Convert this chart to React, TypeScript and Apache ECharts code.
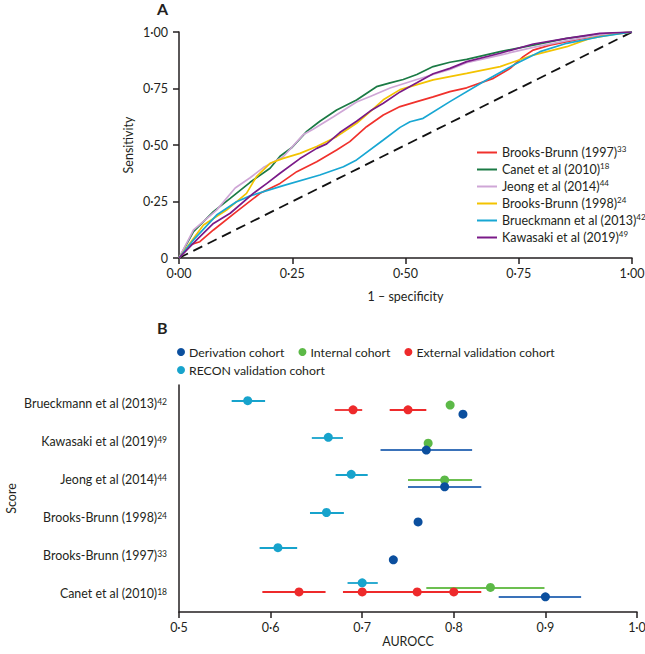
import React, { useEffect, useRef } from 'react';
import * as echarts from 'echarts';

const FONT = 'Lato, "Liberation Sans", sans-serif';
const TXT = '#231f20';

// ---------- Panel A: ROC curves ----------
const rocNames = [
  'Brooks-Brunn (1997)',
  'Canet et al (2010)',
  'Jeong et al (2014)',
  'Brooks-Brunn (1998)',
  'Brueckmann et al (2013)',
  'Kawasaki et al (2019)',
];
const rocRefs = ['33', '18', '44', '24', '42', '49'];
const rocColors = ['#f0312c', '#1b7a45', '#cfa6d6', '#f3c300', '#18a7d3', '#7a1a88'];

const rocBB1997 = [
  [0, 0], [0.024, 0.058], [0.046, 0.072], [0.076, 0.124], [0.127, 0.205], [0.179, 0.286],
  [0.223, 0.33], [0.26, 0.382], [0.304, 0.426], [0.348, 0.478], [0.377, 0.515], [0.414, 0.581],
  [0.451, 0.633], [0.488, 0.67], [0.525, 0.692], [0.561, 0.713], [0.598, 0.736], [0.635, 0.753],
  [0.694, 0.795], [0.731, 0.839], [0.76, 0.891], [0.782, 0.92], [0.819, 0.942], [0.892, 0.972],
  [0.966, 0.994], [1, 1],
];
const rocCanet = [
  [0, 0], [0.032, 0.117], [0.076, 0.205], [0.113, 0.264], [0.157, 0.335], [0.201, 0.397],
  [0.223, 0.45], [0.25, 0.49], [0.282, 0.56], [0.311, 0.605], [0.348, 0.655], [0.392, 0.699],
  [0.436, 0.758], [0.466, 0.775], [0.495, 0.79], [0.525, 0.812], [0.561, 0.847], [0.598, 0.866],
  [0.635, 0.879], [0.709, 0.913], [0.782, 0.942], [0.856, 0.972], [0.929, 0.991], [1, 1],
];
const rocJeong = [
  [0, 0], [0.032, 0.124], [0.083, 0.212], [0.124, 0.31], [0.157, 0.355], [0.186, 0.4],
  [0.23, 0.448], [0.274, 0.545], [0.296, 0.57], [0.341, 0.625], [0.392, 0.69], [0.422, 0.715],
  [0.466, 0.752], [0.525, 0.79], [0.561, 0.812], [0.598, 0.834], [0.635, 0.864], [0.709, 0.898],
  [0.782, 0.932], [0.856, 0.962], [0.929, 0.987], [1, 1],
];
const rocBB1998 = [
  [0, 0], [0.054, 0.146], [0.105, 0.212], [0.149, 0.286], [0.171, 0.36], [0.201, 0.419],
  [0.23, 0.441], [0.267, 0.463], [0.304, 0.493], [0.348, 0.537], [0.392, 0.596], [0.422, 0.648],
  [0.451, 0.7], [0.488, 0.745], [0.561, 0.788], [0.635, 0.817], [0.709, 0.847], [0.782, 0.898],
  [0.856, 0.935], [0.907, 0.972], [0.966, 0.991], [1, 1],
];
const rocBrueckmann = [
  [0, 0], [0.032, 0.08], [0.083, 0.19], [0.127, 0.249], [0.157, 0.275], [0.23, 0.32],
  [0.311, 0.367], [0.363, 0.404], [0.392, 0.434], [0.451, 0.522], [0.488, 0.578], [0.51, 0.603],
  [0.539, 0.618], [0.598, 0.692], [0.672, 0.78], [0.745, 0.861], [0.797, 0.913], [0.856, 0.95],
  [0.929, 0.979], [1, 1],
];
const rocKawasaki = [
  [0, 0], [0.039, 0.08], [0.076, 0.153], [0.113, 0.198], [0.164, 0.286], [0.194, 0.33],
  [0.223, 0.375], [0.267, 0.44], [0.304, 0.485], [0.326, 0.505], [0.355, 0.555], [0.392, 0.605],
  [0.422, 0.65], [0.451, 0.685], [0.488, 0.735], [0.525, 0.775], [0.561, 0.815], [0.598, 0.839],
  [0.635, 0.869], [0.709, 0.906], [0.782, 0.947], [0.856, 0.972], [0.929, 0.994], [1, 1],
];
const rocCurves = [rocBB1997, rocCanet, rocJeong, rocBB1998, rocBrueckmann, rocKawasaki];
const chanceLine = [[0, 0], [1, 1]];

// ---------- Panel B: AUROCC forest ----------
// bottom -> top
const scoreNames = [
  'Canet et al (2010)',
  'Brooks-Brunn (1997)',
  'Brooks-Brunn (1998)',
  'Jeong et al (2014)',
  'Kawasaki et al (2019)',
  'Brueckmann et al (2013)',
];
const scoreRefs = ['18', '33', '24', '44', '49', '42'];

const cohortNames = [
  'Derivation cohort',
  'Internal cohort',
  'External validation cohort',
  'RECON validation cohort',
];
const cohortColors = ['#0b4f9e', '#5cb947', '#ee2a2b', '#17a3cc'];
const cohortCIColors = ['#3a72b9', '#6cbf50', '#ee2a2b', '#17a3cc'];

// [rowIndex, auroc, ciLow, ciHigh, offset within row]
const derivation = [
  [5, 0.81, null, null, -0.27],
  [4, 0.77, 0.72, 0.82, -0.22],
  [3, 0.79, 0.75, 0.83, -0.19],
  [2, 0.761, null, null, -0.12],
  [1, 0.734, null, null, -0.12],
  [0, 0.9, 0.849, 0.939, -0.1],
];
const internal = [
  [5, 0.796, null, null, -0.03],
  [4, 0.772, null, null, -0.04],
  [3, 0.79, 0.75, 0.82, -0.01],
  [0, 0.84, 0.77, 0.899, 0.15],
];
const external = [
  [5, 0.69, 0.67, 0.7, -0.155],
  [5, 0.75, 0.73, 0.77, -0.155],
  [0, 0.631, 0.591, 0.66, 0.03],
  [0, 0.7, 0.679, 0.76, 0.03],
  [0, 0.76, 0.7, 0.8, 0.03],
  [0, 0.8, 0.76, 0.83, 0.03],
];
const recon = [
  [5, 0.575, 0.5575, 0.594, 0.085],
  [4, 0.663, 0.645, 0.679, 0.116],
  [3, 0.688, 0.671, 0.706, 0.14],
  [2, 0.661, 0.643, 0.68, 0.13],
  [1, 0.608, 0.588, 0.629, 0.2],
  [0, 0.7, 0.684, 0.717, 0.27],
];
const cohorts = [derivation, internal, external, recon];

const fmt = (v: number, d: number) => v.toFixed(d).replace('.', '·');

const supRich = (size: number) => ({
  sup: { fontSize: size, fontFamily: FONT, color: TXT, verticalAlign: 'top', lineHeight: 10 },
});

export default function App() {
  const ref = useRef<HTMLDivElement>(null);

  useEffect(() => {
    if (!ref.current) return;
    const chart = echarts.init(ref.current, undefined, { renderer: 'svg' });

    const axisCommon = {
      axisLine: { lineStyle: { color: TXT, width: 1.5 } },
      axisTick: { length: 6, lineStyle: { color: TXT, width: 1.5 } },
      splitLine: { show: false },
      nameLocation: 'middle',
      nameMoveOverlap: false,
      nameTextStyle: { fontSize: 12.5, color: TXT, fontFamily: FONT },
    };
    const labelCommon = { fontSize: 12.5, color: TXT, fontFamily: FONT };

    const rocSeries = rocCurves.map((d, i) => ({
      name: rocNames[i],
      type: 'line',
      xAxisIndex: 0,
      yAxisIndex: 0,
      data: d,
      showSymbol: false,
      symbol: 'none',
      lineStyle: { color: rocColors[i], width: 1.7 },
      itemStyle: { color: rocColors[i] },
      z: 3,
    }));

    const ciSeries = cohorts.map((rows, ci) => ({
      name: cohortNames[ci] + ' CI',
      type: 'lines',
      coordinateSystem: 'cartesian2d',
      xAxisIndex: 1,
      yAxisIndex: 2,
      polyline: false,
      data: rows
        .filter((r) => r[2] != null)
        .map((r) => ({
          coords: [
            [r[2], (r[0] as number) + 0.5 + (r[4] as number)],
            [r[3], (r[0] as number) + 0.5 + (r[4] as number)],
          ],
        })),
      lineStyle: { color: cohortCIColors[ci], width: 1.8, opacity: 1 },
      z: 2,
    }));

    const drawOrder = [3, 2, 1, 0];
    const pointSeries = drawOrder.map((ci) => ({
      name: cohortNames[ci],
      type: 'scatter',
      xAxisIndex: 1,
      yAxisIndex: 2,
      symbol: 'circle',
      symbolSize: 9,
      data: cohorts[ci].map((r) => [r[1], (r[0] as number) + 0.5 + (r[4] as number)]),
      itemStyle: { color: cohortColors[ci], opacity: 1 },
      z: 4,
    }));

    const option: any = {
      animation: false,
      textStyle: { fontFamily: FONT, color: TXT },
      grid: [
        { left: 179, top: 32, width: 453, height: 226, containLabel: false, outerBoundsMode: 'none' },
        { left: 179, top: 385, width: 458, height: 227, containLabel: false, outerBoundsMode: 'none' },
      ],
      xAxis: [
        {
          ...axisCommon,
          gridIndex: 0,
          type: 'value',
          min: 0,
          max: 1,
          interval: 0.25,
          name: '1 – specificity',
          nameGap: 32,
          axisLabel: { ...labelCommon, margin: 9, formatter: (v: number) => fmt(v, 2) },
        },
        {
          ...axisCommon,
          gridIndex: 1,
          type: 'value',
          min: 0.5,
          max: 1.0,
          interval: 0.1,
          name: 'AUROCC',
          nameGap: 23,
          axisLabel: { ...labelCommon, margin: 9, formatter: (v: number) => fmt(v, 1) },
        },
      ],
      yAxis: [
        {
          ...axisCommon,
          gridIndex: 0,
          type: 'value',
          min: 0,
          max: 1,
          interval: 0.25,
          name: 'Sensitivity',
          nameGap: 44,
          axisLabel: {
            ...labelCommon,
            margin: 11,
            formatter: (v: number) => (v === 0 ? '0' : fmt(v, 2)),
          },
        },
        {
          ...axisCommon,
          gridIndex: 1,
          type: 'category',
          data: scoreNames,
          boundaryGap: true,
          name: 'Score',
          nameGap: 161,
          axisTick: { length: 6, alignWithLabel: false, lineStyle: { color: TXT, width: 1.5 } },
          axisLabel: {
            fontSize: 12.4,
            color: TXT,
            fontFamily: FONT,
            margin: 12,
            formatter: (v: string, i: number) => `${v}{sup|${scoreRefs[i]}}`,
            rich: supRich(8.5),
          },
        },
        {
          gridIndex: 1,
          type: 'value',
          min: 0,
          max: 6,
          show: false,
        },
      ],
      legend: [
        {
          data: rocNames,
          orient: 'vertical',
          left: 472,
          top: 140,
          itemWidth: 20,
          itemHeight: 2,
          itemGap: 2,
          icon: 'rect',
          formatter: (n: string) => `${n}{sup|${rocRefs[rocNames.indexOf(n)]}}`,
          textStyle: { fontSize: 12.5, color: TXT, fontFamily: FONT, lineHeight: 15, rich: supRich(8) },
        },
        {
          data: cohortNames.slice(0, 3),
          orient: 'horizontal',
          left: 172,
          top: 341,
          itemWidth: 8,
          itemHeight: 8,
          itemGap: 14,
          icon: 'circle',
          textStyle: { fontSize: 12.3, color: TXT, fontFamily: FONT, padding: [0, 0, 0, -1] },
        },
        {
          data: cohortNames.slice(3),
          orient: 'horizontal',
          left: 172,
          top: 359,
          itemWidth: 8,
          itemHeight: 8,
          icon: 'circle',
          textStyle: { fontSize: 12.3, color: TXT, fontFamily: FONT, padding: [0, 0, 0, -1] },
        },
      ],
      graphic: [
        {
          type: 'text',
          left: 157,
          top: 0,
          style: { text: 'A', fontSize: 16, fontWeight: 'bold', fill: TXT, fontFamily: FONT },
        },
        {
          type: 'text',
          left: 157,
          top: 319,
          style: { text: 'B', fontSize: 16, fontWeight: 'bold', fill: TXT, fontFamily: FONT },
        },
      ],
      series: [
        {
          name: 'chance',
          type: 'line',
          xAxisIndex: 0,
          yAxisIndex: 0,
          data: chanceLine,
          showSymbol: false,
          symbol: 'none',
          lineStyle: { color: '#111', width: 1.8, type: [10, 6] },
          z: 2,
        },
        ...rocSeries,
        ...ciSeries,
        ...pointSeries,
      ],
    };
    chart.setOption(option);
    return () => chart.dispose();
  }, []);

  return <div ref={ref} style={{ width: 645, height: 654, position: 'absolute', left: 0, top: 0 }} />;
}
